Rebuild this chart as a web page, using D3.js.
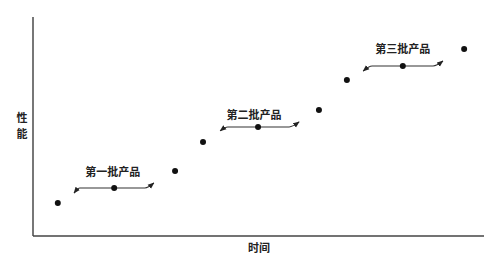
<!DOCTYPE html>
<html><head><meta charset="utf-8">
<script src="https://cdn.jsdelivr.net/npm/d3@7"></script>
<style>body{margin:0;background:#fff}</style>
</head><body>
<script>
const timeVals = [5.5, 18.0, 31.5, 37.7, 49.9, 63.4, 69.6, 82.0, 95.6];
const perfVals = [15.1, 21.9, 29.7, 42.9, 49.8, 57.5, 71.2, 77.6, 85.4];
const batchLabels = ["第一批产品", "第二批产品", "第三批产品"];
const batchLabelX = [17.7, 49.0, 82.0];
const batchLabelY = [29.2, 55.3, 85.4];
// arrow: left tip, left corner, right corner, right tip (time), tip/level values (perf)
const arrowLeftTipX = [9.1, 41.5, 73.2];
const arrowLeftTipY = [19.6, 48.0, 75.3];
const arrowLeftCornerX = [10.4, 43.2, 75.2];
const arrowLevelY = [21.9, 49.8, 77.6];
const arrowRightCornerX = [24.8, 56.8, 88.7];
const arrowRightTipX = [26.8, 59.0, 90.9];
const arrowRightTipY = [24.2, 52.1, 79.9];
const xTitle = "时间";
const yTitle = ["性", "能"];

const W = 490, H = 259;
const svg = d3.select("body").append("svg").attr("width", W).attr("height", H);
const x = d3.scaleLinear().domain([0, 100]).range([33, 484]);
const y = d3.scaleLinear().domain([0, 100]).range([236, 17]);

const defs = svg.append("defs");
defs.append("marker").attr("id", "ah").attr("viewBox", "0 0 10 10")
  .attr("refX", 9).attr("refY", 5).attr("markerWidth", 6).attr("markerHeight", 6)
  .attr("orient", "auto-start-reverse")
  .append("path").attr("d", "M0,1 L10,5 L0,9 Z").attr("fill", "#222");

// axes
svg.append("line").attr("x1", x(0)).attr("x2", x(0)).attr("y1", y(100)).attr("y2", y(0))
  .attr("stroke", "#555").attr("stroke-width", 1.6);
svg.append("line").attr("x1", x(0)).attr("x2", x(100)).attr("y1", y(0)).attr("y2", y(0))
  .attr("stroke", "#444").attr("stroke-width", 1.6);

const font = "'Noto Sans CJK SC', sans-serif";
svg.append("text").attr("x", 259).attr("y", 252).attr("text-anchor", "middle")
  .attr("font-family", font).attr("font-size", 11).attr("font-weight", "bold").attr("fill", "#222").text(xTitle);
yTitle.forEach((t, i) => {
  svg.append("text").attr("x", 22).attr("y", 122 + i * 16).attr("text-anchor", "middle")
    .attr("font-family", font).attr("font-size", 11).attr("font-weight", "bold").attr("fill", "#222").text(t);
});

// arrows
const line = d3.line().x(d => x(d[0])).y(d => y(d[1])).curve(d3.curveMonotoneX);
batchLabels.forEach((lab, i) => {
  const pts = [[arrowLeftTipX[i], arrowLeftTipY[i]], [arrowLeftCornerX[i], arrowLevelY[i]],
               [arrowRightCornerX[i], arrowLevelY[i]], [arrowRightTipX[i], arrowRightTipY[i]]];
  svg.append("path").attr("d", line(pts)).attr("fill", "none").attr("stroke", "#333")
    .attr("stroke-width", 1.1).attr("marker-start", "url(#ah)").attr("marker-end", "url(#ah)");
  svg.append("text").attr("x", x(batchLabelX[i])).attr("y", y(batchLabelY[i]) + 4)
    .attr("text-anchor", "middle").attr("font-family", font).attr("font-size", 11)
    .attr("font-weight", "bold").attr("fill", "#222").text(lab);
});

// points
svg.selectAll("circle.pt").data(timeVals).enter().append("circle")
  .attr("cx", d => x(d)).attr("cy", (d, i) => y(perfVals[i])).attr("r", 3).attr("fill", "#111");
</script>
</body></html>
